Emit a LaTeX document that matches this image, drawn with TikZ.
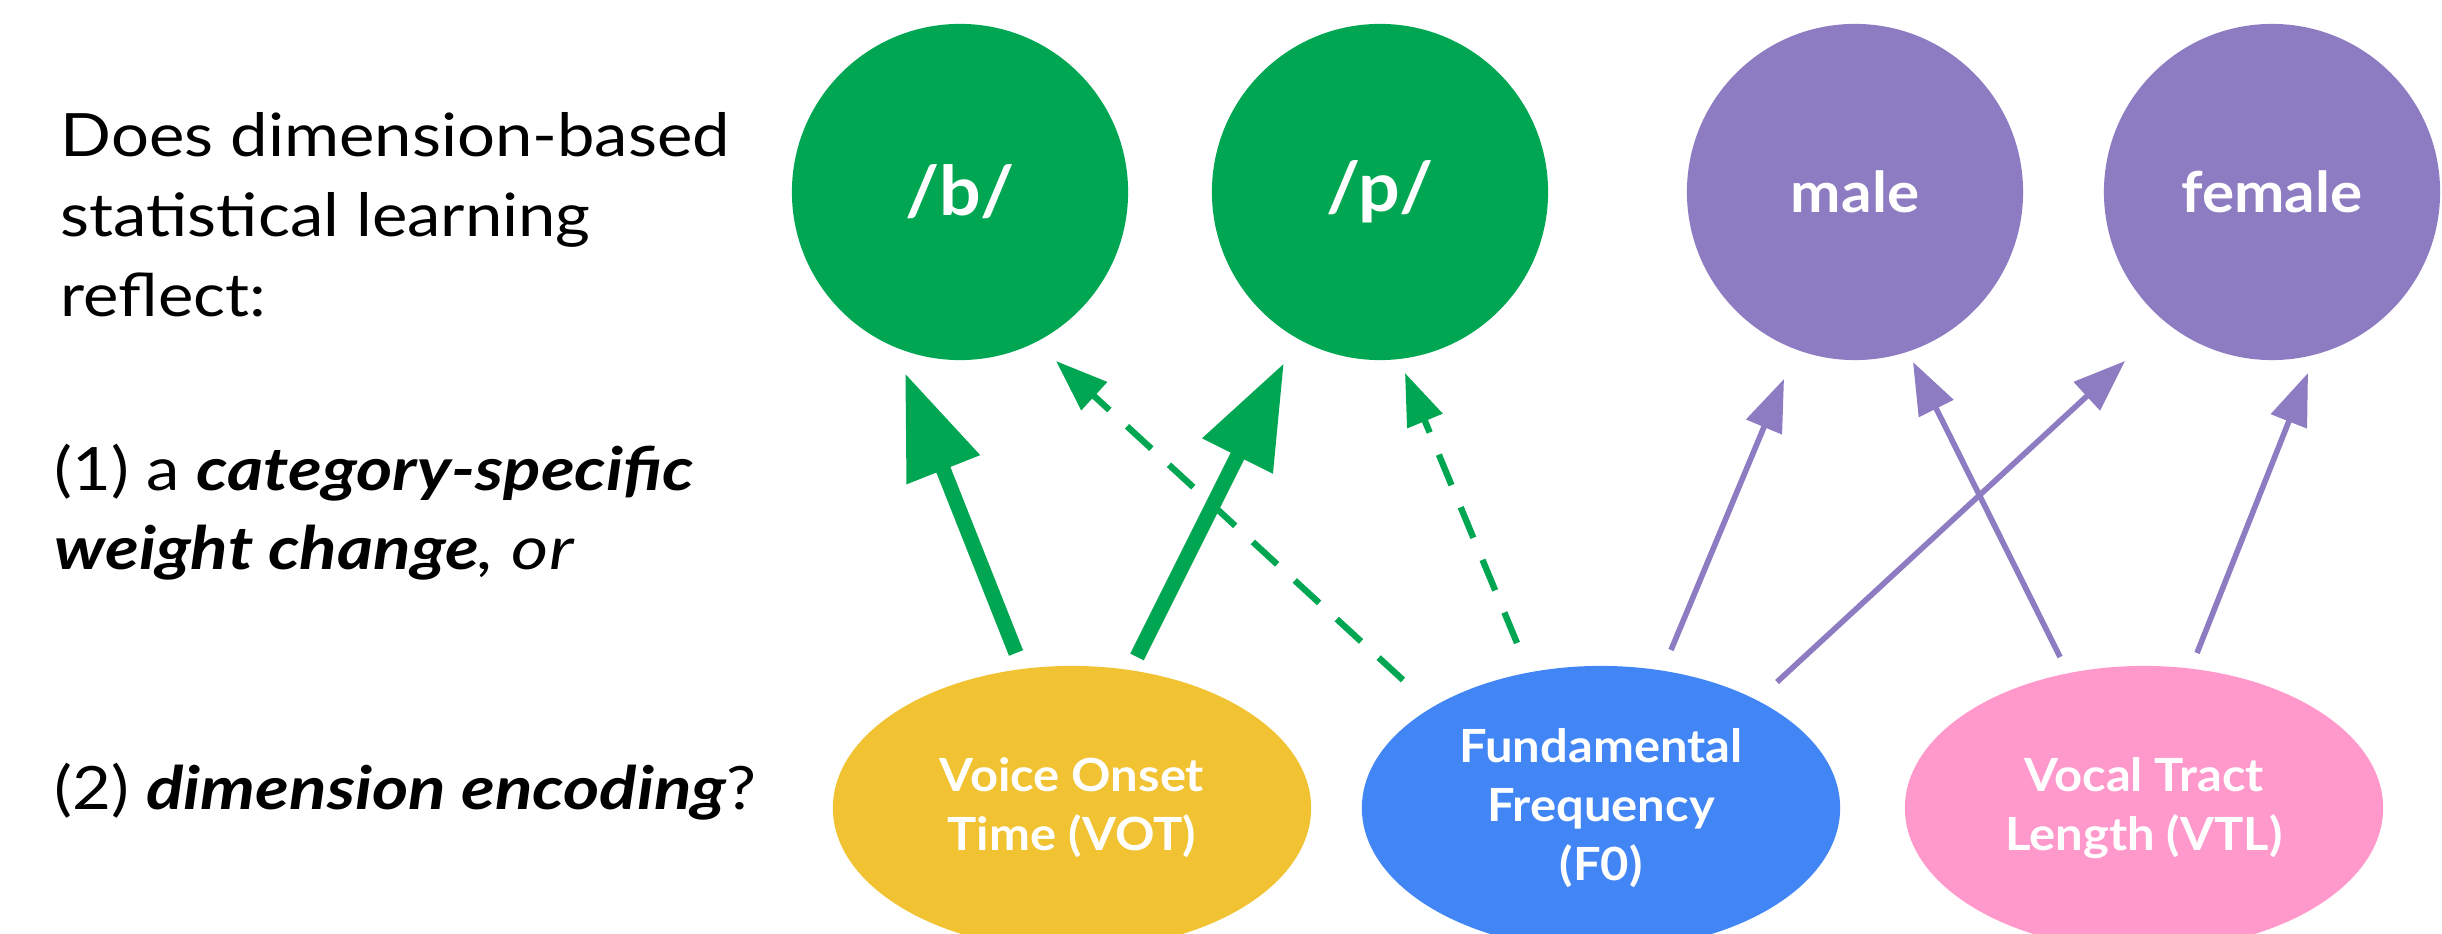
\documentclass[tikz,border=0pt]{standalone}
\usepackage{fontspec}
\setmainfont{Lato}[BoldFeatures={FakeStretch=1.07}]
\newfontfamily\qfont{Lato}[
  UprightFeatures={FakeStretch=1.12},
  ItalicFeatures={FakeStretch=1.2},
  BoldItalicFeatures={FakeStretch=1.16}]
\usetikzlibrary{arrows.meta,calc,shapes.geometric}

\definecolor{phongreen}{HTML}{00A651}
\definecolor{talkerpurple}{HTML}{8E7CC3}
\definecolor{votyellow}{HTML}{F1C232}
\definecolor{fzeroblue}{HTML}{4285F4}
\definecolor{vtlpink}{HTML}{FF99CC}

\tikzset{
  category/.style={circle, fill=#1, minimum size=3.36cm, inner sep=0pt, text=white},
  phoneme/.style={category=phongreen, font=\bfseries\fontsize{19.5}{23}\selectfont},
  gender/.style={category=talkerpurple, font=\bfseries\fontsize{16}{19}\selectfont},
  cue/.style={ellipse, fill=#1, minimum width=4.78cm, minimum height=2.84cm,
    inner sep=0pt, text=white, align=center,
    font=\bfseries\fontsize{13}{16.8}\selectfont},
  question/.style={anchor=base west, inner sep=0pt, font=\qfont\fontsize{17}{22}\selectfont},
  strongweight/.style={draw=phongreen, line width=4.3pt,
    -{Triangle[length=29.6pt,width=21.3pt]}},
  weakweight/.style={draw=phongreen, line width=1.8pt, dash pattern=on 9.4pt off 6.8pt,
    -{Triangle[length=14.8pt,width=10.5pt]}},
  talkerlink/.style={draw=talkerpurple, line width=1.6pt,
    -{Triangle[length=14.8pt,width=10.7pt]}},
}

\begin{document}
\begin{tikzpicture}[x=0.01cm, y=-0.01cm]
  \useasboundingbox (0,0) rectangle (2442,934);
  \clip (0,0) rectangle (2442,934);

  % question text
  \node[question] (q1) at (60,157) {Does dimension-based};
  \node[question] (q2) at (60,237) {statistical learning};
  \node[question] (q3) at (60,317) {reflect:};
  \node[question] (o1a) at (54,491) {(1) a \textbf{\textit{category-specific}}};
  \node[question] (o1b) at (54,570) {\textbf{\textit{weight change}}\textit{, or}};
  \node[question] (o2) at (54,810) {(2) \textbf{\textit{dimension encoding}}?};

  % categories
  \node[phoneme] (b) at (960,192) {/b/};
  \node[phoneme] (p) at (1380,192) {/p/};
  \node[gender] (male) at (1855,192) {male};
  \node[gender] (female) at (2272,192) {female};

  % acoustic dimensions
  \node[cue=votyellow] (vot) at (1072,808) {Voice Onset\\Time (VOT)};
  \node[cue=fzeroblue] (f0) at (1601,808) {Fundamental\\Frequency\\(F0)};
  \node[cue=vtlpink] (vtl) at (2144,808) {Vocal Tract\\Length (VTL)};

  % VOT weights
  \draw[strongweight] ($(vot)+(-56,-155)$) -- ($(b)+(-55,181)$);
  \draw[strongweight] ($(vot)+(65,-151)$) -- ($(p)+(-96,171)$);

  % F0 weights
  \draw[weakweight] ($(f0)+(-198,-128)$) -- ($(b)+(96,169)$);
  \draw[weakweight] ($(f0)+(-84,-165)$) -- ($(p)+(25,181)$);
  \draw[talkerlink] ($(f0)+(70,-158)$) -- ($(male)+(-71,187)$);
  \draw[talkerlink] ($(f0)+(176,-126)$) -- ($(female)+(-147,169)$);

  % VTL weights
  \draw[talkerlink] ($(vtl)+(-84,-151)$) -- ($(male)+(58,170)$);
  \draw[talkerlink] ($(vtl)+(53,-155)$) -- ($(female)+(36,181)$);
\end{tikzpicture}
\end{document}
